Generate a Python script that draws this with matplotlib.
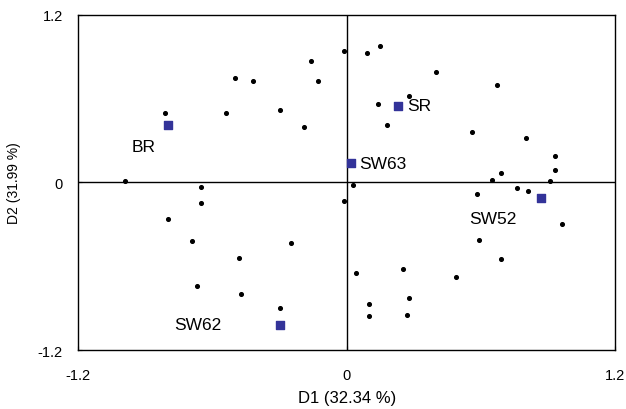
import matplotlib
matplotlib.use("Agg")
import matplotlib.pyplot as plt

plt.rcParams['font.family'] = ['Liberation Sans', 'DejaVu Sans']

# variable points (D1, D2)
var_x = [-0.99, -0.81, -0.65, -0.54, -0.50, -0.42, -0.30, -0.19, -0.16, -0.13, -0.01,
         0.03, 0.09, 0.15, 0.40, 0.67, 0.14, 0.28, 0.18, 0.56, 0.80, 0.93, 0.93,
         0.69, 0.65, 0.91, 0.58, 0.76, 0.81,
         -0.65, -0.80, -0.01, -0.69, -0.25, -0.48, 0.04, -0.67, -0.47, -0.30,
         0.96, 0.59, 0.69, 0.25, 0.49, 0.10, 0.28, 0.10, 0.27]
var_y = [0.01, 0.50, -0.03, 0.50, 0.75, 0.73, 0.52, 0.40, 0.87, 0.73, 0.94,
         -0.02, 0.93, 0.98, 0.79, 0.70, 0.56, 0.62, 0.41, 0.36, 0.32, 0.19, 0.09,
         0.07, 0.02, 0.01, -0.08, -0.04, -0.06,
         -0.15, -0.26, -0.13, -0.42, -0.43, -0.54, -0.65, -0.74, -0.80, -0.90,
         -0.30, -0.41, -0.55, -0.62, -0.68, -0.87, -0.83, -0.96, -0.95]

# sample points
samples = ['BR', 'SR', 'SW63', 'SW52', 'SW62']
smp_x = [-0.80, 0.23, 0.02, 0.87, -0.30]
smp_y = [0.41, 0.55, 0.14, -0.11, -1.02]
lbl_x = [-0.96, 0.27, 0.055, 0.546, -0.77]
lbl_y = [0.26, 0.55, 0.137, -0.26, -1.015]

fig = plt.figure(figsize=(6.26, 4.10), dpi=100)
ax = fig.add_axes([0.1246, 0.1439, 0.8584, 0.8171])

ax.axhline(0, color='black', lw=1)
ax.axvline(0, color='black', lw=1)
ax.scatter(var_x, var_y, s=7, color='black', zorder=3)
ax.scatter(smp_x, smp_y, s=40, marker='s', color='#333399', zorder=4)
for name, x, y in zip(samples, lbl_x, lbl_y):
    ax.text(x, y, name, fontsize=12.5, va='center', ha='left')

ax.set_xlim(-1.2, 1.2)
ax.set_ylim(-1.2, 1.2)
ax.set_xticks([-1.2, 0, 1.2])
ax.set_yticks([-1.2, 0, 1.2])
ax.set_xticklabels(['-1.2', '0', '1.2'])
ax.set_yticklabels(['-1.2', '0', '1.2'])
ax.tick_params(direction='in', length=3, labelsize=10.5)
ax.tick_params(axis='x', pad=13)
ax.tick_params(axis='y', pad=11)
for s in ax.spines.values():
    s.set_linewidth(1)

ax.set_xlabel('D1 (32.34 %)', fontsize=12, labelpad=6)
ax.set_ylabel('D2 (31.99 %)', fontsize=10, labelpad=12)

fig.savefig('out.png', dpi=100)
